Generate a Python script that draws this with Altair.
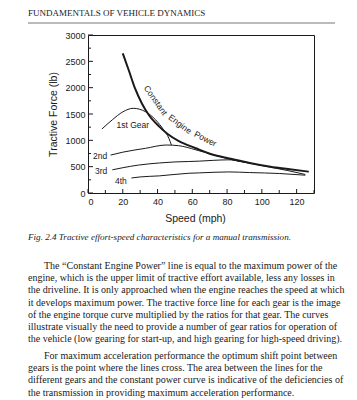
import altair as alt
import pandas as pd

# ---- data ----
power_speed = [20, 23.4, 27, 31, 35, 41, 46, 52, 62, 71, 82, 93, 105, 115, 127]
power_force = [2650, 2335, 1990, 1700, 1480, 1260, 1115, 990, 850, 735, 650, 570, 500, 455, 405]

g1_speed = [8, 14, 20, 26, 33, 39, 43.5, 46.5, 48]
g1_force = [1215, 1390, 1540, 1608, 1545, 1385, 1200, 1040, 910]

g2_speed = [13, 20, 33, 45, 52, 62, 72, 82, 92]
g2_force = [720, 775, 848, 911, 899, 820, 725, 640, 572]

g3_speed = [14, 20, 29, 41, 50, 58, 64, 72, 81, 88, 94, 105, 115, 125]
g3_force = [440, 480, 530, 570, 590, 598, 605, 620, 630, 600, 560, 490, 425, 352]

g4_speed = [25, 30, 41, 58, 64, 81, 93, 110, 122, 125]
g4_force = [285, 305, 325, 375, 382, 400, 388, 370, 345, 338]

x_ticks_major = [0, 20, 40, 60, 80, 100, 120]
x_ticks_minor = [10, 30, 50, 70, 90, 110, 130]
y_ticks_major = [0, 500, 1000, 1500, 2000, 2500, 3000]
y_ticks_minor = [250, 750, 1250, 1750, 2250, 2750]

curve_labels = ["Constant", "Engine", "Power", "1st Gear"]
curve_label_speed = [39.0, 53.0, 67.6, 25.8]
curve_label_force = [1760, 1310, 1030, 1291]
curve_label_angle = [55, 37, 27, 0]

gear_labels = ["2nd", "3rd", "4th"]
gear_label_speed = [2.9, 4.0, 15.5]
gear_label_force = [706, 421, 237]

header = "FUNDAMENTALS OF VEHICLE DYNAMICS"
caption = "Fig. 2.4  Tractive effort-speed characteristics for a manual transmission."
para1 = [
    "The \u201cConstant Engine Power\u201d line is equal to the maximum power of the",
    "engine, which is the upper limit of tractive effort available, less any losses in",
    "the driveline.  It is only approached when the engine reaches the speed at which",
    "it develops maximum power.  The tractive force line for each gear is the image",
    "of the engine torque curve multiplied by the ratios for that gear.  The curves",
    "illustrate visually the need to provide a number of gear ratios for operation of",
    "the vehicle (low gearing for start-up, and high gearing for high-speed driving).",
]
para2 = [
    "For maximum acceleration performance the optimum shift point between",
    "gears is the point where the lines cross.  The area between the lines for the",
    "different gears and the constant power curve is indicative of the deficiencies of",
    "the transmission in providing maximum acceleration performance.",
]

INK = "#1a1a1a"
SANS = "Liberation Sans"
SERIF = "Liberation Serif"
W, H = 226, 158

def series_df(name, sp, fo):
    return pd.DataFrame({"series": name, "speed": sp, "force": fo})

gears = pd.concat([
    series_df("1st", g1_speed, g1_force),
    series_df("2nd", g2_speed, g2_force),
    series_df("3rd", g3_speed, g3_force),
    series_df("4th", g4_speed, g4_force),
])
power = series_df("power", power_speed, power_force)

xscale = alt.Scale(domain=[0, 130], nice=False, zero=False)
yscale = alt.Scale(domain=[0, 3000], nice=False)

xaxis = alt.Axis(values=x_ticks_major, format="d", ticks=False, tickSize=0, domain=False,
                 grid=False, labelFont=SANS, labelFontSize=9, labelColor=INK, labelPadding=4,
                 title="Speed (mph)", titleFont=SANS, titleFontSize=10.5,
                 titleFontWeight="normal", titleColor=INK, titleX=107, titleY=25,
                 titleBaseline="middle")
yaxis = alt.Axis(values=y_ticks_major, format="d", ticks=False, tickSize=0, domain=False,
                 grid=False, labelFont=SANS, labelFontSize=9, labelColor=INK, labelPadding=3,
                 title="Tractive Force (lb)", titleFont=SANS, titleFontSize=10.5,
                 titleFontWeight="normal", titleColor=INK, titleX=-35, titleY=79,
                 titleBaseline="middle", titleAngle=270)

def X(field):
    return alt.X(field, scale=xscale, axis=xaxis)

def Y(field):
    return alt.Y(field, scale=yscale, axis=yaxis)

power_line = alt.Chart(power).mark_line(interpolate="monotone", color=INK, strokeWidth=2).encode(
    x=X("speed:Q"), y=Y("force:Q"))
gear_lines = alt.Chart(gears).mark_line(interpolate="monotone", color=INK, strokeWidth=1).encode(
    x=X("speed:Q"), y=Y("force:Q"), detail="series:N")

def yticks(vals, length):
    return alt.Chart(pd.DataFrame({"force": vals})).mark_rule(color=INK, strokeWidth=1).encode(
        y=Y("force:Q"), x=alt.value(0), x2=alt.value(length))

def xticks(vals, length):
    return alt.Chart(pd.DataFrame({"speed": vals})).mark_rule(color=INK, strokeWidth=1).encode(
        x=X("speed:Q"), y=alt.value(H), y2=alt.value(H - length))

lab_df = pd.DataFrame({"t": curve_labels, "speed": curve_label_speed,
                       "force": curve_label_force, "ang": curve_label_angle})
curve_text = alt.Chart(lab_df).mark_text(font=SANS, fontSize=8.5, color=INK, align="center",
                                         baseline="middle").encode(
    x=X("speed:Q"), y=Y("force:Q"), text="t:N",
    angle=alt.Angle("ang:Q", scale=None),
)
gl_df = pd.DataFrame({"t": gear_labels, "speed": gear_label_speed, "force": gear_label_force})
gear_text = alt.Chart(gl_df).mark_text(font=SANS, fontSize=8.5, color=INK, align="left",
                                       baseline="middle").encode(
    x=X("speed:Q"), y=Y("force:Q"), text="t:N")

base = alt.Chart(pd.DataFrame({"a": [0]}))

def page_text(txt, x, y, size=10, style="normal"):
    return base.mark_text(text=txt, font=SERIF, fontSize=size, fontStyle=style, color=INK,
                          align="left", baseline="middle").encode(x=alt.value(x), y=alt.value(y))

layers = [power_line, gear_lines,
          yticks(y_ticks_major, 5), yticks(y_ticks_minor, 3),
          xticks(x_ticks_major, 4), xticks(x_ticks_minor, 3),
          curve_text, gear_text]

# page furniture (positions relative to the plot's top-left corner)
layers.append(page_text(header, -60, -22, size=9))
layers.append(base.mark_rule(color="#777777", strokeWidth=1).encode(
    x=alt.value(-60), x2=alt.value(247), y=alt.value(-12)))
layers.append(page_text(caption, -60, 202, size=9.1, style="italic"))

LH = 12.2
y0 = 231
for i, line in enumerate(para1):
    layers.append(page_text(line, -44 if i == 0 else -60, y0 + i * LH))
y1 = y0 + 6 * LH + 16.8
for i, line in enumerate(para2):
    layers.append(page_text(line, -44 if i == 0 else -60, y1 + i * LH))

chart = alt.layer(*layers).properties(
    width=W, height=H,
    padding={"left": 88, "top": 35, "right": 43, "bottom": 207},
    autosize=alt.AutoSizeParams(type="none"),
    background="white",
).configure_view(stroke=INK, strokeWidth=1)

chart.save("out.html", embed_options={"renderer": "svg", "actions": False})
